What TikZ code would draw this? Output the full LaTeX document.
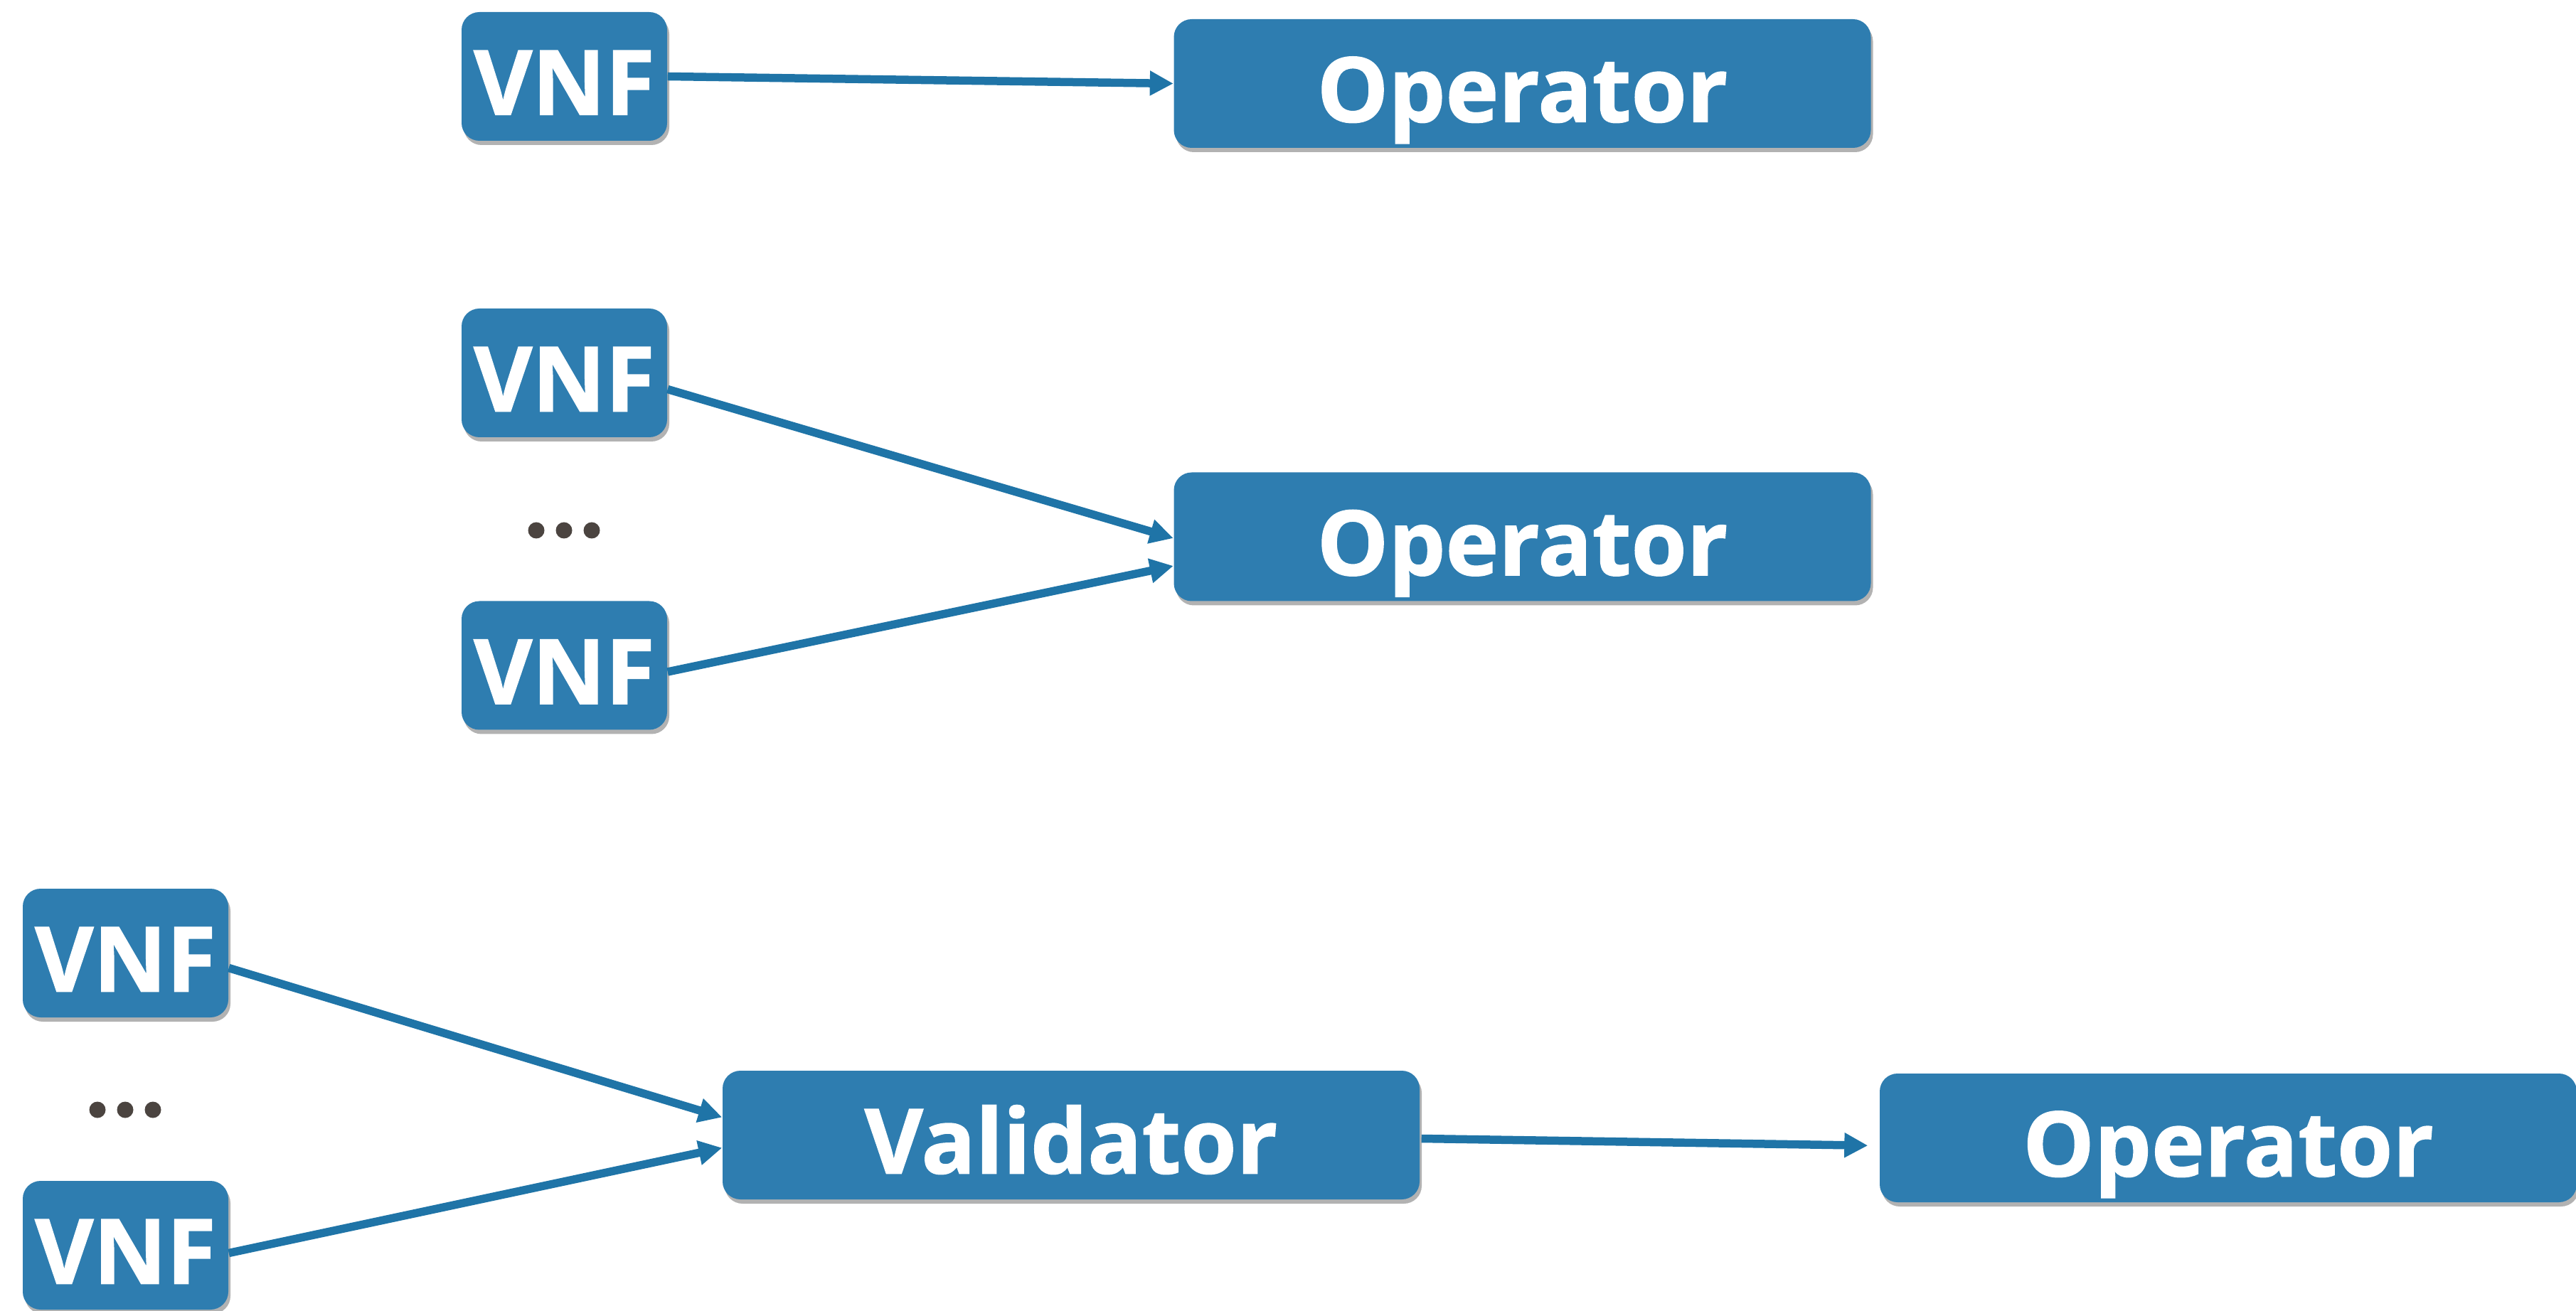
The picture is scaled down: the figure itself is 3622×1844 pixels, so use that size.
\documentclass[tikz,border=0pt]{standalone}
\usepackage{fontspec}
\setmainfont{Open Sans}
\newfontfamily\boxfont[BoldFeatures={FakeBold=1.2}]{Open Sans}
\usetikzlibrary{arrows.meta,shadows,calc}
\definecolor{boxblue}{HTML}{2E7DB0}
\definecolor{arrowblue}{HTML}{1F74A7}
\definecolor{dotgray}{HTML}{4B4440}
\begin{document}
\begin{tikzpicture}[x=0.1mm,y=-0.1mm,
  box/.style={rounded corners=2.5mm, fill=boxblue, text=white,
    font=\boxfont\fontsize{36}{40}\selectfont\bfseries, inner sep=0pt,
    minimum height=18.1mm, text height=10.8mm, text depth=0pt,
    drop shadow={shadow xshift=0.3mm, shadow yshift=-0.6mm, opacity=0.3, fill=black}},
  vnf/.style={box, minimum width=28.9mm},
  wide/.style={box, minimum width=98.0mm},
  conn/.style={draw=arrowblue, line width=1.15mm, -{Triangle[length=3.3mm,width=3.3mm]}},
  dotn/.style={circle, fill=dotgray, inner sep=0pt, minimum size=2.3mm}
]
\useasboundingbox (0,0) rectangle (3622,1844);

% row 1
\node[vnf]  (v1)  at (793.5,107.5) {VNF};
\node[wide] (op1) at (2140.5,117.5) {Operator};

% row 2
\node[vnf]  (v2)  at (793.5,524.5) {VNF};
\node[vnf]  (v3)  at (793.5,936) {VNF};
\node[wide] (op2) at (2140.5,755) {Operator};
\node[dotn] (d21) at (754,746) {};
\node[dotn] (d22) at (793,746) {};
\node[dotn] (d23) at (832,746) {};

% row 3
\node[vnf]  (v4)  at (176.5,1340.5) {VNF};
\node[vnf]  (v5)  at (176.5,1751.5) {VNF};
\node[wide] (val) at (1506,1596.5) {Validator};
\node[wide] (op3) at (3133,1600.5) {Operator};
\node[dotn] (d31) at (137,1561) {};
\node[dotn] (d32) at (176,1561) {};
\node[dotn] (d33) at (215,1561) {};

% connectors
\draw[conn] (v1.east) -- (op1.west);
\draw[conn] ($(v2.east)+(0,23)$) -- ($(op2.west)+(0,2)$);
\draw[conn] ($(v3.east)+(0,9)$) -- ($(op2.west)+(0,41)$);
\draw[conn] ($(v4.east)+(0,21)$) -- ($(val.west)+(0,-25)$);
\draw[conn] ($(v5.east)+(0,11)$) -- ($(val.west)+(0,18)$);
\draw[conn, shorten >=1.6mm] ($(val.east)+(2,5)$) -- ($(op3.west)+(0,11)$);
\end{tikzpicture}
\end{document}
